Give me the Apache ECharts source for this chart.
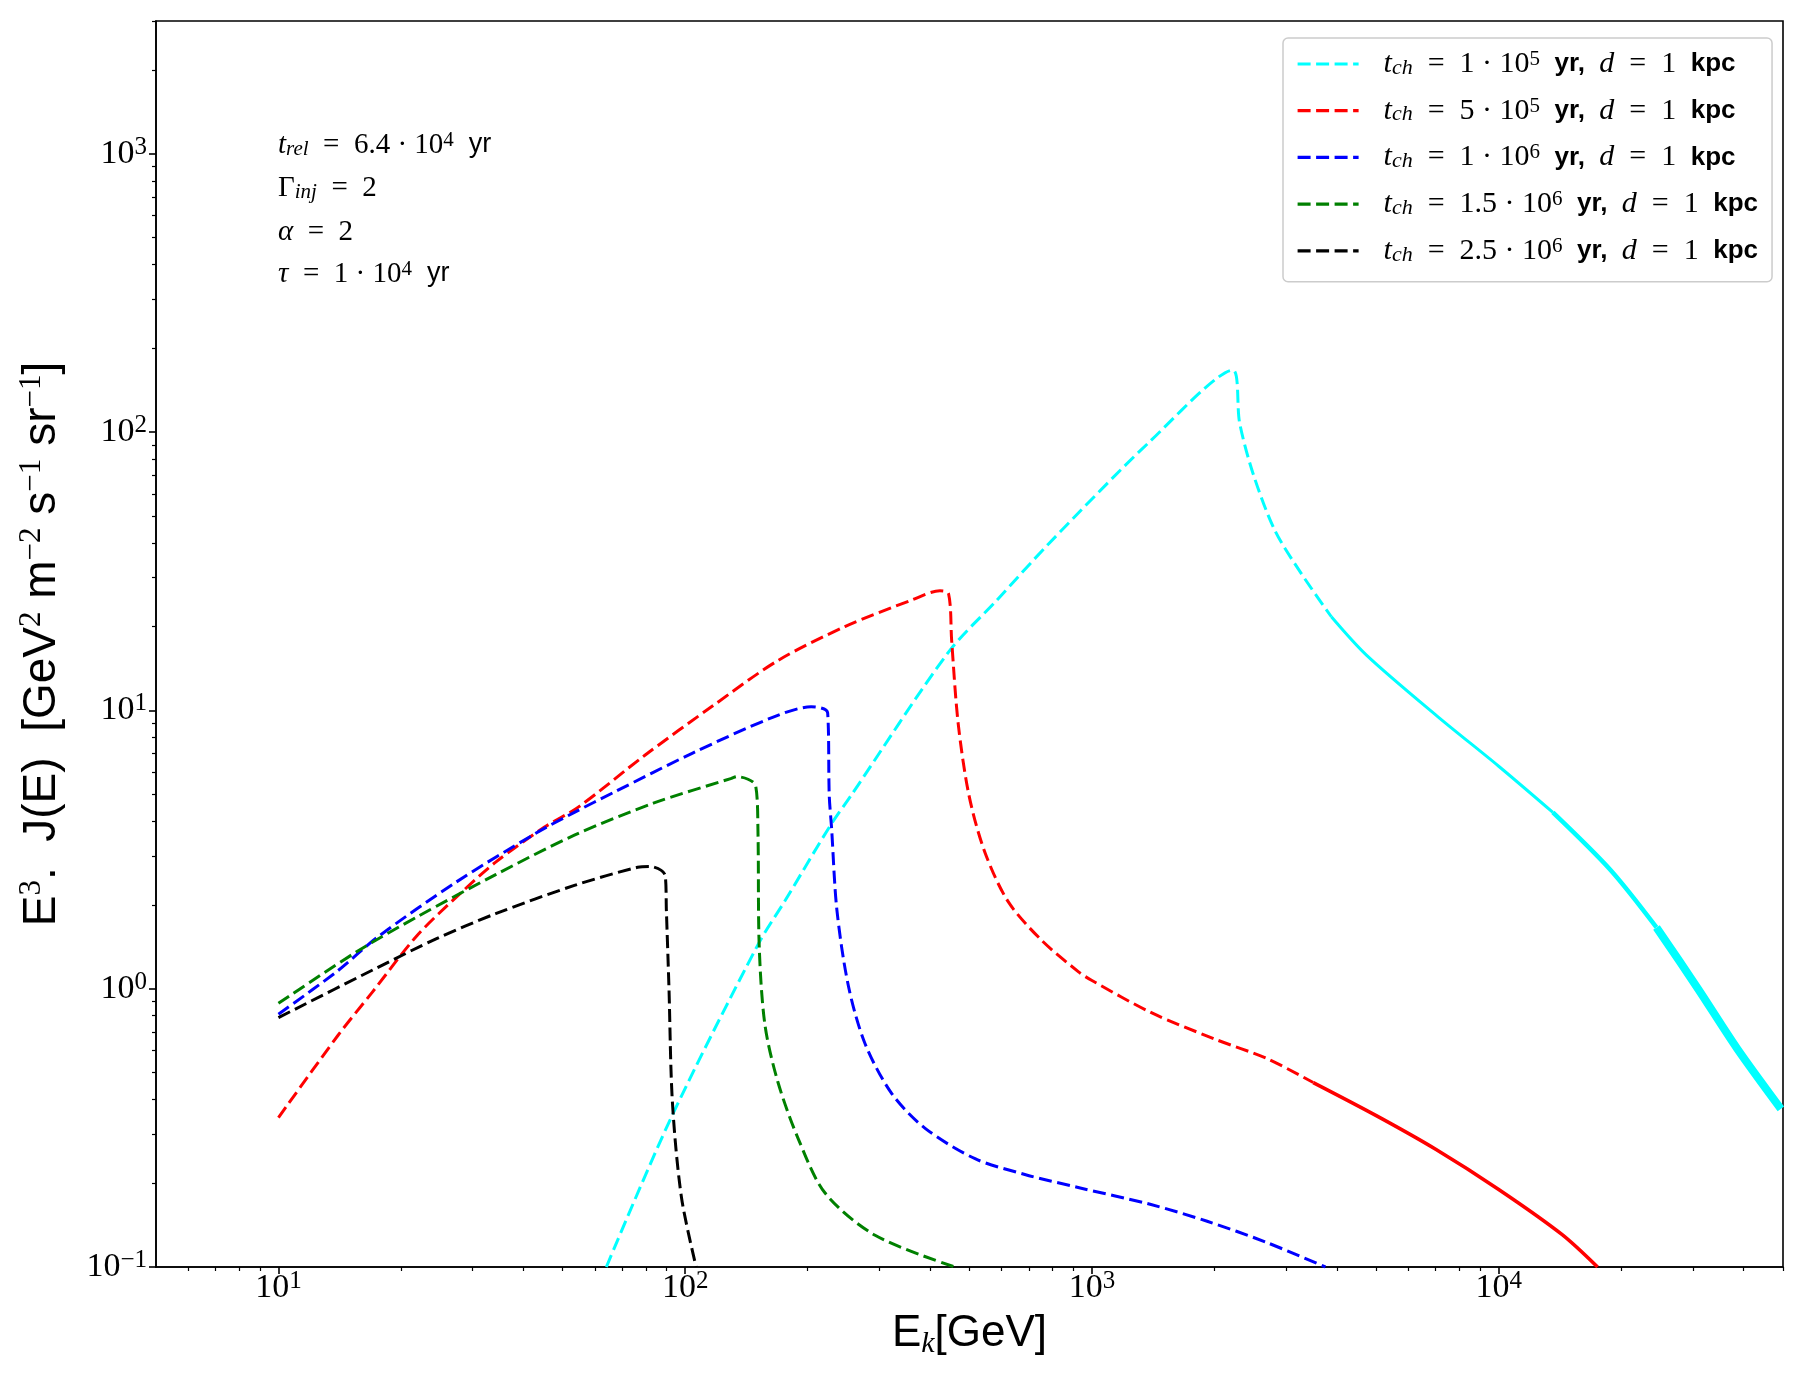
<!DOCTYPE html>
<html>
<head>
<meta charset="utf-8">
<script src="https://cdn.jsdelivr.net/npm/echarts@6.0.0/dist/echarts.min.js"></script>
<style>
  html, body { margin: 0; padding: 0; background: #fff; }
  #chart { width: 1806px; height: 1387px; }
</style>
</head>
<body>
<div id="chart"></div>
<script>
// values (E in GeV, E^3 J(E))
var cyanE = [64, 92, 151, 177, 227, 257, 444, 584, 783, 1371, 2219, 2307, 2489, 2813, 3272, 3878];
var cyanJ = [0.1, 0.34, 1.44, 2.1, 3.84, 5.0, 16.2, 24.9, 39.7, 90.9, 167, 108, 71, 44.5, 31.0, 21.7];
var cyanTailE = [3878, 4730, 7080, 10000, 13590];
var cyanTailJ = [21.7, 15.8, 9.5, 6.3, 4.3];
var cyanNoisyE = [13590, 18830, 24430];
var cyanNoisyJ = [4.3, 2.67, 1.66];
var cyanBandE = [24430, 30900, 38550, 49400];
var cyanBandJ = [1.66, 1.0, 0.61, 0.37];

var redE = [10, 14, 17, 21.9, 28, 34.2, 45, 54.7, 79.6, 116, 169, 247, 360, 423, 444, 452, 469, 499, 546, 623, 753, 927, 1000, 1400, 2000, 2700, 3500];
var redJ = [0.344, 0.679, 0.97, 1.55, 2.2, 2.85, 3.8, 4.5, 6.9, 10.3, 15.1, 20.0, 24.9, 26.9, 26.3, 17.8, 8.96, 4.92, 3.08, 2.05, 1.49, 1.15, 1.07, 0.82, 0.66, 0.56, 0.46];
var redTailE = [3500, 5000, 7000, 10000, 14300, 17500];
var redTailJ = [0.46, 0.35, 0.265, 0.19, 0.131, 0.1];

var blueE = [10, 14, 17.5, 27.4, 42.8, 53.4, 66.8, 104, 164, 204, 224, 226, 229, 236, 252, 277, 322, 389, 516, 684, 925, 1390, 1920, 2670, 3750];
var blueJ = [0.81, 1.16, 1.53, 2.42, 3.61, 4.3, 5.08, 7.01, 9.44, 10.3, 9.8, 4.96, 3.79, 1.92, 1.02, 0.633, 0.42, 0.315, 0.245, 0.215, 0.193, 0.168, 0.146, 0.123, 0.1];

var greenE = [10, 15.6, 21.9, 34.2, 53.4, 83.5, 130, 134, 149, 151, 152, 157, 169, 190, 221, 293, 460];
var greenJ = [0.886, 1.36, 1.81, 2.57, 3.56, 4.64, 5.70, 5.78, 5.36, 3.62, 1.44, 0.744, 0.462, 0.287, 0.184, 0.130, 0.1];

var blackE = [10, 17.5, 24.4, 34.2, 53.4, 76.4, 82, 89.3, 89.9, 91.2, 93.0, 97.9, 106.4];
var blackJ = [0.787, 1.19, 1.51, 1.86, 2.35, 2.73, 2.75, 2.55, 1.91, 1.02, 0.393, 0.178, 0.1];

var seriesKeys = ['c1', 'c2', 'c3', 'c4', 'c5'];
var seriesColors = ['#00ffff', '#ff0000', '#0000ff', '#008000', '#000000'];
var legendMant = ['1', '5', '1', '1.5', '2.5'];
var legendExp = ['5', '5', '6', '6', '6'];

var xMajor = [10, 100, 1000, 10000];
var xMinor = [6, 7, 8, 9, 20, 30, 40, 50, 60, 70, 80, 90, 200, 300, 400, 500, 600, 700, 800, 900,
  2000, 3000, 4000, 5000, 6000, 7000, 8000, 9000, 20000, 30000, 40000, 50000];
var yMajor = [0.1, 1, 10, 100, 1000];
var yMinor = [0.2, 0.3, 0.4, 0.5, 0.6, 0.7, 0.8, 0.9, 2, 3, 4, 5, 6, 7, 8, 9, 20, 30, 40, 50, 60, 70, 80, 90,
  200, 300, 400, 500, 600, 700, 800, 900, 2000, 3000];

var annLines = [
  '{it|t}{sub|rel}{n|  =  6.4 · 10}{sup|4}{s|  yr}',
  '{n|Γ}{sub|inj}{n|  =  2}',
  '{it|α}{n|  =  2}',
  '{it|τ}{n|  =  1 · 10}{sup|4}{s|  yr}'
];
var annY = [145, 188, 232, 274];

var SERIF = "'Liberation Serif', 'DejaVu Serif', serif";
var SANS = "'Liberation Sans', 'DejaVu Sans', sans-serif";

function pairs(e, j) {
  return e.map(function (v, i) { return [v, j[i]]; });
}

function powLabel(v) {
  var e = Math.round(Math.log10(v));
  return '{b|10}{e|' + (e < 0 ? '\u2212' + (-e) : e) + '}';
}

function makeSeries(name, color, e, j, width, dashed) {
  return {
    name: name,
    type: 'line',
    data: pairs(e, j),
    symbol: 'none',
    smooth: 0.3,
    animation: false,
    silent: true,
    itemStyle: { color: color },
    lineStyle: { color: color, width: width, type: dashed ? [13, 5.5] : 'solid', join: 'round' }
  };
}

var tickRich = {
  b: { fontFamily: SERIF, fontSize: 34, lineHeight: 38, color: '#000' },
  e: { fontFamily: SERIF, fontSize: 25, lineHeight: 20, verticalAlign: 'top', color: '#000' }
};

var legendRich = {
  it: { fontFamily: SERIF, fontStyle: 'italic', fontSize: 30, lineHeight: 30, color: '#000' },
  pad: { fontFamily: SERIF, fontStyle: 'italic', fontSize: 30, lineHeight: 30, color: '#000', padding: [0, 0, 0, 20] },
  sub: { fontFamily: SERIF, fontStyle: 'italic', fontSize: 22, lineHeight: 16, verticalAlign: 'bottom', color: '#000' },
  n: { fontFamily: SERIF, fontSize: 30, lineHeight: 30, color: '#000' },
  sup: { fontFamily: SERIF, fontSize: 21, lineHeight: 14, verticalAlign: 'top', color: '#000' },
  b: { fontFamily: SANS, fontWeight: 'bold', fontSize: 26, lineHeight: 30, color: '#000' }
};

var annRich = {
  it: { fontFamily: SERIF, fontStyle: 'italic', fontSize: 29, lineHeight: 30, fill: '#000' },
  sub: { fontFamily: SERIF, fontStyle: 'italic', fontSize: 21, lineHeight: 14, verticalAlign: 'bottom', fill: '#000' },
  n: { fontFamily: SERIF, fontSize: 29, lineHeight: 30, fill: '#000' },
  sup: { fontFamily: SERIF, fontSize: 21, lineHeight: 12, verticalAlign: 'top', fill: '#000' },
  s: { fontFamily: SANS, fontSize: 27, lineHeight: 30, fill: '#000' }
};

var series = [
  makeSeries('c1', seriesColors[0], cyanE, cyanJ, 3, true),
  makeSeries('cyan-tail', seriesColors[0], cyanTailE, cyanTailJ, 3, false),
  makeSeries('cyan-noisy', seriesColors[0], cyanNoisyE, cyanNoisyJ, 4.5, false),
  makeSeries('cyan-band', seriesColors[0], cyanBandE, cyanBandJ, 8, false),
  makeSeries('c2', seriesColors[1], redE, redJ, 3, true),
  makeSeries('red-tail', seriesColors[1], redTailE, redTailJ, 3.6, false),
  makeSeries('c3', seriesColors[2], blueE, blueJ, 3, true),
  makeSeries('c4', seriesColors[3], greenE, greenJ, 3, true),
  makeSeries('c5', seriesColors[4], blackE, blackJ, 3, true)
];

var myChart = echarts.init(document.getElementById('chart'), null, { renderer: 'canvas' });

var option = {
  backgroundColor: '#fff',
  animation: false,
  grid: {
    left: 156, right: 23, top: 21, bottom: 120,
    show: true, borderColor: '#000', borderWidth: 1.6, backgroundColor: 'transparent',
    containLabel: false, outerBoundsMode: 'none'
  },
  legend: {
    data: seriesKeys,
    orient: 'vertical',
    left: 1283,
    top: 38,
    padding: [11, 14, 16, 13],
    itemWidth: 61,
    itemHeight: 30,
    itemGap: 16.7,
    backgroundColor: '#fff',
    borderColor: '#cccccc',
    borderWidth: 1.5,
    borderRadius: 5,
    selectedMode: false,
    itemStyle: { opacity: 0, borderWidth: 0 },
    lineStyle: { width: 3.2 },
    textStyle: { rich: legendRich, color: '#000' },
    formatter: function (name) {
      var i = seriesKeys.indexOf(name);
      return '{pad|t}{sub|ch}{n|  =  ' + legendMant[i] + ' · 10}{sup|' + legendExp[i] +
        '}{b|  yr,  }{it|d}{n|  =  1}{b|  kpc}';
    }
  },
  xAxis: [
    {
      type: 'log', logBase: 10, min: 5, max: 50000, position: 'bottom',
      axisLine: { show: true, onZero: false, lineStyle: { color: '#000', width: 1.6 } },
      axisTick: { show: true, customValues: xMajor, length: 7, lineStyle: { color: '#000', width: 1.6 } },
      axisLabel: { show: true, customValues: xMajor, formatter: powLabel, margin: 2, rich: tickRich },
      splitLine: { show: false },
      minorTick: { show: false },
      name: '{t|E}{k|k}{t|[GeV]}',
      nameLocation: 'middle',
      nameGap: 42,
      nameTextStyle: {
        rich: {
          t: { fontFamily: SANS, fontSize: 44, lineHeight: 50, color: '#000' },
          k: { fontFamily: SERIF, fontStyle: 'italic', fontSize: 30, lineHeight: 24, verticalAlign: 'bottom', color: '#000' }
        }
      }
    },
    {
      type: 'log', logBase: 10, min: 5, max: 50000, position: 'bottom', offset: 0,
      axisLine: { show: false },
      axisTick: { show: true, customValues: xMinor, length: 4, lineStyle: { color: '#000', width: 1.2 } },
      axisLabel: { show: false },
      splitLine: { show: false }
    }
  ],
  yAxis: [
    {
      type: 'log', logBase: 10, min: 0.1, max: 3000, position: 'left',
      axisLine: { show: true, onZero: false, lineStyle: { color: '#000', width: 1.6 } },
      axisTick: { show: true, customValues: yMajor, length: 7, lineStyle: { color: '#000', width: 1.6 } },
      axisLabel: { show: true, customValues: yMajor, formatter: powLabel, margin: 9, rich: tickRich },
      splitLine: { show: false },
      minorTick: { show: false },
      name: '{t|E}{s|3}{t|.  J(E)  [GeV}{s|2}{t| m}{s|\u22122}{t| s}{s|\u22121}{t| sr}{s|\u22121}{t|]}',
      nameLocation: 'middle',
      nameGap: 88,
      nameRotate: 90,
      nameTextStyle: {
        rich: {
          t: { fontFamily: SANS, fontSize: 46, lineHeight: 52, color: '#000' },
          s: { fontFamily: SERIF, fontSize: 31, lineHeight: 28, verticalAlign: 'top', color: '#000' }
        }
      }
    },
    {
      type: 'log', logBase: 10, min: 0.1, max: 3000, position: 'left', offset: 0,
      axisLine: { show: false },
      axisTick: { show: true, customValues: yMinor, length: 4, lineStyle: { color: '#000', width: 1.2 } },
      axisLabel: { show: false },
      splitLine: { show: false }
    }
  ],
  graphic: annLines.map(function (txt, i) {
    return {
      type: 'text',
      x: 278,
      y: annY[i],
      silent: true,
      style: { text: txt, rich: annRich, verticalAlign: 'middle', fill: '#000', fontFamily: SERIF, fontSize: 29 }
    };
  }),
  series: series
};

myChart.setOption(option);
</script>
</body>
</html>
